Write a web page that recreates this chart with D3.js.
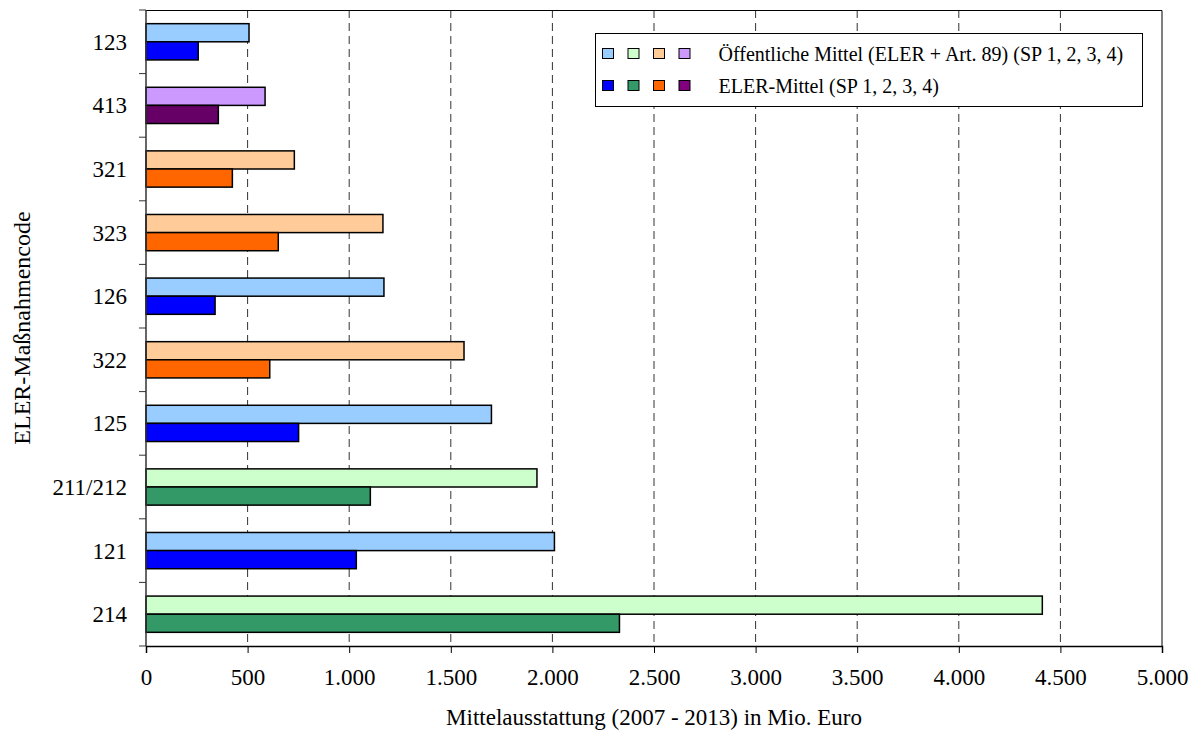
<!DOCTYPE html>
<html>
<head>
<meta charset="utf-8">
<script src="https://cdn.jsdelivr.net/npm/d3@7"></script>
<style>
  body { margin: 0; background: #fff; }
  svg text { font-family: "Liberation Serif", "Times New Roman", serif; fill: #000; }
</style>
</head>
<body>
<div id="chart"></div>
<script>
// categories top to bottom
const codes = ['123', '413', '321', '323', '126', '322', '125', '211/212', '121', '214'];
// Schwerpunkt group for each code (selects colour pair)
const groups = ['sp1', 'sp4', 'sp3', 'sp3', 'sp1', 'sp3', 'sp1', 'sp2', 'sp1', 'sp2'];
// Öffentliche Mittel (ELER + Art. 89), Mio. Euro
const publicFunds = [507, 586, 730, 1166, 1171, 1565, 1700, 1924, 2010, 4411];
// ELER-Mittel, Mio. Euro
const elerFunds = [257, 356, 425, 651, 340, 609, 751, 1104, 1035, 2330];
const xTicks = [0, 500, 1000, 1500, 2000, 2500, 3000, 3500, 4000, 4500, 5000];

const lightColors = { sp1: '#99ccff', sp2: '#ccffcc', sp3: '#ffcc99', sp4: '#cc99ff' };
const darkColors = { sp1: '#0000ff', sp2: '#339966', sp3: '#ff6600', sp4: '#660066' };
const legendDark = { sp1: '#0000ff', sp2: '#339966', sp3: '#ff6600', sp4: '#800080' };
const legendLabels = ['Öffentliche Mittel (ELER + Art. 89) (SP 1, 2, 3, 4)', 'ELER-Mittel (SP 1, 2, 3, 4)'];

const width = 1197;
const height = 733;
const margin = { top: 10, right: 35, bottom: 87, left: 146 };
const innerW = width - margin.left - margin.right;
const innerH = height - margin.top - margin.bottom;

const svg = d3.select('#chart').append('svg')
  .attr('width', width)
  .attr('height', height);

const g = svg.append('g').attr('transform', `translate(${margin.left},${margin.top})`);

const x = d3.scaleLinear().domain([0, 5000]).range([0, innerW]);
const y = d3.scaleBand().domain(codes).range([0, innerH]);
const barH = y.bandwidth() * 0.285;

const fmt = d3.formatLocale({ decimal: ',', thousands: '.', grouping: [3], currency: ['', ' €'] }).format(',');

// dashed gridlines
g.append('g')
  .selectAll('line')
  .data(xTicks.filter(t => t > 0 && t < 5000))
  .join('line')
  .attr('x1', d => x(d))
  .attr('x2', d => x(d))
  .attr('y1', 0)
  .attr('y2', innerH)
  .attr('stroke', '#333')
  .attr('stroke-width', 1)
  .attr('stroke-dasharray', '8,5');

// bars
const rows = g.selectAll('g.row')
  .data(codes.map((c, i) => ({ code: c, group: groups[i], pub: publicFunds[i], eler: elerFunds[i] })))
  .join('g')
  .attr('class', 'row')
  .attr('transform', d => `translate(0,${y(d.code) + y.bandwidth() / 2})`);

rows.append('rect')
  .attr('x', 0)
  .attr('y', -barH)
  .attr('width', d => x(d.pub))
  .attr('height', barH)
  .attr('fill', d => lightColors[d.group])
  .attr('stroke', '#000')
  .attr('stroke-width', 1.5);

rows.append('rect')
  .attr('x', 0)
  .attr('y', 0)
  .attr('width', d => x(d.eler))
  .attr('height', barH)
  .attr('fill', d => darkColors[d.group])
  .attr('stroke', '#000')
  .attr('stroke-width', 1.5);

// frame (top and right)
g.append('path')
  .attr('d', `M0,0.5H${innerW}V${innerH}`)
  .attr('fill', 'none')
  .attr('stroke', '#000')
  .attr('stroke-width', 1);

// x axis
const xAxis = g.append('g')
  .attr('transform', `translate(0,${innerH})`)
  .call(d3.axisBottom(x).tickValues(xTicks).tickFormat(fmt).tickSize(7).tickPadding(16))
  .attr('font-family', null)
  .attr('font-size', null);
xAxis.select('.domain').attr('stroke', '#000').attr('stroke-width', 1.5);
xAxis.selectAll('.tick line').attr('stroke', '#000');
xAxis.selectAll('text').style('font-size', '23px');

// y axis: ticks between categories
const yAxis = g.append('g');
yAxis.append('line')
  .attr('x1', 0).attr('x2', 0).attr('y1', 0).attr('y2', innerH)
  .attr('stroke', '#333').attr('stroke-width', 1.5);
yAxis.selectAll('line.tick')
  .data(d3.range(codes.length + 1))
  .join('line')
  .attr('class', 'tick')
  .attr('x1', -7).attr('x2', 0)
  .attr('y1', i => i * y.step())
  .attr('y2', i => i * y.step())
  .attr('stroke', '#333');
yAxis.selectAll('text')
  .data(codes)
  .join('text')
  .attr('x', -19)
  .attr('y', d => y(d) + y.bandwidth() / 2)
  .attr('dy', '0.35em')
  .attr('text-anchor', 'end')
  .style('font-size', '23px')
  .text(d => d);

// axis titles
svg.append('text')
  .attr('x', margin.left + innerW / 2)
  .attr('y', 725)
  .attr('text-anchor', 'middle')
  .style('font-size', '23px')
  .text('Mittelausstattung (2007 - 2013) in Mio. Euro');

svg.append('text')
  .attr('transform', `translate(30,${margin.top + innerH / 2}) rotate(-90)`)
  .attr('text-anchor', 'middle')
  .style('font-size', '24px')
  .text('ELER-Maßnahmencode');

// legend
const legend = svg.append('g').attr('transform', 'translate(595.5,33.5)');
legend.append('rect')
  .attr('width', 547)
  .attr('height', 73)
  .attr('fill', '#fff')
  .attr('stroke', '#000');

const sp = ['sp1', 'sp2', 'sp3', 'sp4'];
[lightColors, legendDark].forEach((cols, r) => {
  const row = legend.append('g').attr('transform', `translate(0,${15 + r * 32})`);
  row.selectAll('rect')
    .data(sp)
    .join('rect')
    .attr('x', (d, i) => 7 + i * 25.5)
    .attr('y', 0)
    .attr('width', 11)
    .attr('height', 10)
    .attr('fill', d => cols[d])
    .attr('stroke', '#000');
  row.append('text')
    .attr('x', 123)
    .attr('y', 5)
    .attr('dy', '0.35em')
    .style('font-size', '20px')
    .text(legendLabels[r]);
});
</script>
</body>
</html>
